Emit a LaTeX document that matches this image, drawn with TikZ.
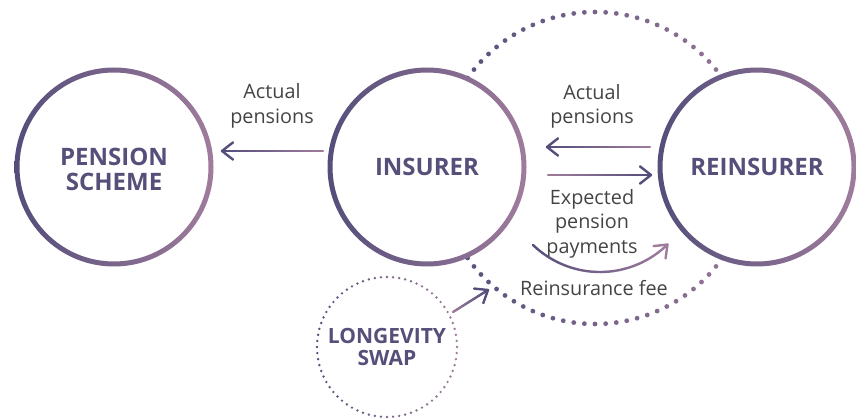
\documentclass[tikz,border=0pt]{standalone}
\usepackage{fontspec}
\setmainfont{Open Sans}
\usetikzlibrary{calc}
\definecolor{cdark}{RGB}{84,78,122}
\definecolor{cpink}{RGB}{160,124,156}
\definecolor{ctext}{RGB}{86,79,122}
\definecolor{cgray}{RGB}{68,68,68}
\tikzset{
  hub/.style={circle, fill=white, minimum size=190pt, inner sep=0pt,
    font=\fontsize{24}{25}\selectfont\bfseries, text=ctext, align=center},
  swapbox/.style={circle, minimum size=136pt, inner sep=0pt,
    font=\fontsize{21}{21.5}\selectfont\bfseries, text=ctext, align=center},
  boldlbl/.style={font=\fontsize{24}{25}\selectfont\bfseries, text=ctext, align=center, inner sep=0pt},
  lbl/.style={font=\fontsize{19.8}{24.5}\selectfont, text=cgray, align=center, inner sep=0pt},
  flow/.style={line width=2.4pt, line cap=round, line join=round},
}
\newcommand\gline[4]{%
  \foreach \i in {1,...,24}{%
    \pgfmathsetmacro\pa{(\i-1)/24}%
    \pgfmathsetmacro\pb{\i/24}%
    \pgfmathtruncatemacro\pc{100*(\i-0.5)/24}%
    \draw[flow, color=#4!\pc!#3] ($(#1)!\pa!(#2)$) -- ($(#1)!\pb!(#2)$);
  }}
\newcommand\chev[3]{%
  \draw[flow,#3] ([shift={(#2+180-38:14)}]#1) -- (#1) -- ([shift={(#2+180+38:14)}]#1);}
\newcommand\ring[1]{%
  \shade[left color=cdark, right color=cpink, even odd rule]
    (#1) circle (99.5) (#1) circle (94.5);}
\begin{document}
\begin{tikzpicture}[x=1pt,y=-1pt]
\useasboundingbox (0,0) rectangle (861,419);
% big dotted circle
\coordinate (dotc) at (595,168);
\foreach \k in {0,...,91}{%
  \pgfmathsetmacro\a{3.91304*\k}%
  \pgfmathtruncatemacro\pc{45*(1+cos(\a))}%
  \fill[cpink!\pc!cdark] (dotc) ++(\a:156) circle (2.4);
}
% small dotted circle
\node[swapbox] (swap) at (387,347) {LONGEVITY\\SWAP};
\foreach \k in {0,...,71}{%
  \pgfmathsetmacro\a{\k*5}%
  \pgfmathtruncatemacro\pc{50*(1+cos(\a))}%
  \fill[cpink!\pc!cdark] (swap.center) ++(\a:70) circle (1.35);
}
% hubs
\node[hub] (pen) at (114,167) {};
\node[boldlbl] (pent) at (114,169.5) {PENSION\\SCHEME};
\node[hub] (ins) at (427,167) {INSURER};
\node[hub] (rei) at (757,167) {REINSURER};
\ring{pen.center}
\ring{ins.center}
\ring{rei.center}
% labels
\node[lbl] (l1) at (272,106) {Actual\\pensions};
\node[lbl] (l2) at (592,106.5) {Actual\\pensions};
\node[lbl] (l3) at (592,223.5) {Expected\\pension\\payments};
\node[lbl] (l4) at (594,288) {Reinsurance fee};
% arrows
\coordinate (a1t) at (323,151); \coordinate (a1h) at (222,151);
\coordinate (a2t) at (650,147); \coordinate (a2h) at (547,147);
\coordinate (a3t) at (548,175); \coordinate (a3h) at (651,175);
\coordinate (a5t) at (453,312); \coordinate (a5h) at (488,290);
\gline{a1t}{a1h}{cpink}{cdark}
\chev{a1h}{180}{cdark}
\gline{a2t}{a2h}{cpink}{cdark}
\chev{a2h}{180}{cdark}
\gline{a3t}{a3h}{cpink}{cdark}
\chev{a3h}{0}{cdark}
\gline{a5t}{a5h}{cpink}{cdark}
\chev{a5h}{-32.2}{cdark}
% curved arrow
\coordinate (fc) at (600,175.4);
\foreach \i in {1,...,24}{%
  \pgfmathsetmacro\aa{133.9-(\i-1)*88.2/24}%
  \pgfmathsetmacro\ab{133.9-\i*88.2/24}%
  \pgfmathtruncatemacro\pc{100*(\i-0.5)/24}%
  \draw[flow, color=cpink!\pc!cdark] (fc) ++(\aa:96.6) arc[start angle=\aa, end angle=\ab, radius=96.6];
}
\coordinate (a4h) at ($(fc)+(45.7:96.6)$);
\chev{a4h}{-44.3}{cpink}
\end{tikzpicture}
\end{document}
